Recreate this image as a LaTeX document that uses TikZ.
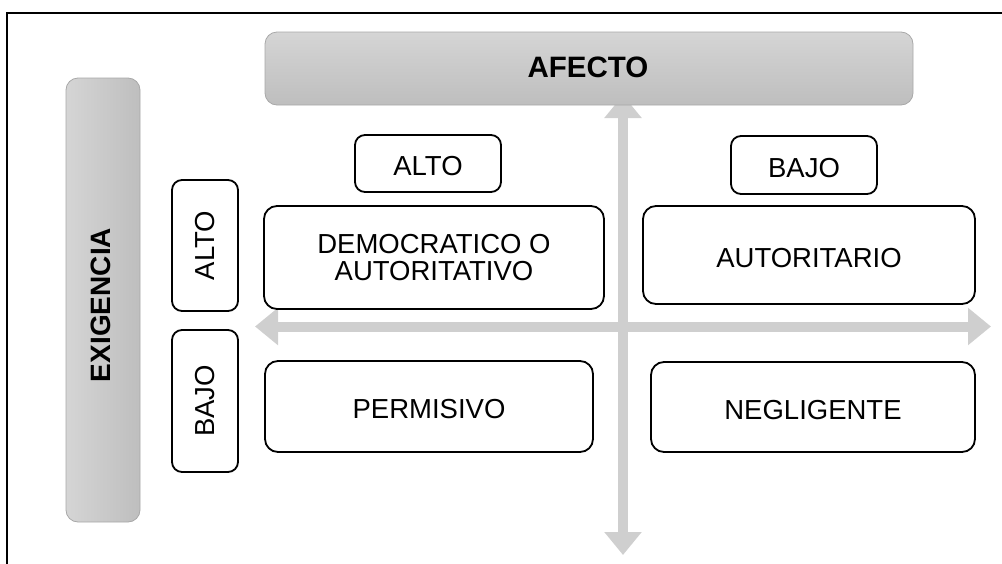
\documentclass[tikz,border=0pt]{standalone}
\usepackage{fontspec}
\setmainfont{Liberation Sans}
\usetikzlibrary{arrows.meta}
\definecolor{axisgray}{HTML}{CFCFCF}
\definecolor{hdrborder}{HTML}{A8A8A8}
\definecolor{hdrlight}{HTML}{D5D5D5}
\definecolor{hdrdark}{HTML}{BEBEBE}
\begin{document}
\begin{tikzpicture}[x=1pt,y=-1pt,
  every node/.style={font=\fontsize{27.5}{26.5}\selectfont, inner sep=0pt, align=center},
  bigbold/.style={font=\fontsize{29.5}{30}\selectfont\bfseries},
  lowtext/.style={text height=24.5pt, text depth=0pt},
  header/.style={draw=hdrborder, line width=0.8pt, rounded corners=12pt},
  cell/.style={draw=black, line width=1.8pt, rounded corners=13pt},
  tag/.style={draw=black, line width=1.8pt, rounded corners=10pt},
  axis/.style={draw=axisgray, line width=10pt, {Triangle[width=36pt,length=23pt]}-{Triangle[width=36pt,length=23pt]}}
]
\useasboundingbox (0,0) rectangle (1002,563);
\clip (0,0) rectangle (1002,563);
\draw[line width=2pt] (7,12.7) rectangle (1030,590);

% axes
\coordinate (xl) at (255,326.5);
\coordinate (xr) at (991,326.5);
\coordinate (yt) at (623,95);
\coordinate (yb) at (623,555);
\draw[axis] (xl) -- (xr);
\draw[axis] (yt) -- (yb);

% headers
\node[header, top color=hdrlight, bottom color=hdrdark, minimum width=648pt, minimum height=73pt] (afecto) at (589,68.5) {};
\node[bigbold] (afectotxt) at (588,67) {AFECTO};
\node[header, left color=hdrlight, right color=hdrdark, minimum width=74pt, minimum height=444pt] (exig) at (103,300) {};
\node[bigbold, font=\fontsize{28}{30}\selectfont\bfseries, rotate=90] (exigtxt) at (100.5,305) {EXIGENCIA};

% tags
\node[tag, lowtext, minimum width=146pt, minimum height=57pt] (altoT) at (428,163.5) {ALTO};
\node[tag, lowtext, minimum width=146pt, minimum height=58pt] (bajoT) at (804,165) {BAJO};
\node[tag, rotate=90, minimum width=131pt, minimum height=66pt] (altoL) at (205,245.5) {ALTO};
\node[tag, rotate=90, minimum width=142pt, minimum height=66pt] (bajoL) at (205,401) {BAJO};

% cells
\node[cell, minimum width=340pt, minimum height=103pt] (demo) at (434,257.5) {DEMOCRATICO O\\AUTORITATIVO};
\node[cell, lowtext, minimum width=332pt, minimum height=98pt] (auto) at (809,255) {AUTORITARIO};
\node[cell, lowtext, minimum width=328pt, minimum height=91pt] (perm) at (429,406.5) {PERMISIVO};
\node[cell, lowtext, minimum width=324pt, minimum height=90pt] (negl) at (813,407) {NEGLIGENTE};
\end{tikzpicture}
\end{document}
